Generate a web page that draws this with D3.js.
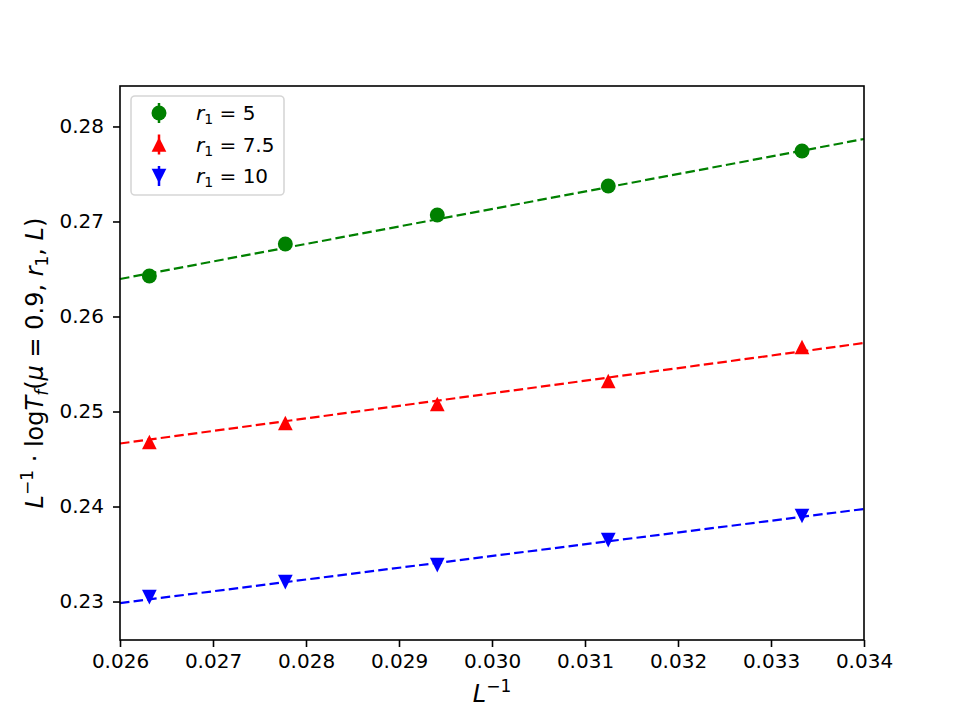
<!DOCTYPE html>
<html>
<head>
<meta charset="utf-8">
<script src="https://cdn.jsdelivr.net/npm/d3@7"></script>
<style>
body { margin: 0; background: #fff; }
svg { font-family: "DejaVu Sans", sans-serif; }
.tick text { font-size: 20px; font-family: "DejaVu Sans", sans-serif; }
</style>
</head>
<body>
<svg id="chart" width="960" height="720"></svg>
<script>
// Data
const invL = [1/38, 1/36, 1/34, 1/32, 1/30];
const seriesNames = ["5", "7.5", "10"];
const seriesColors = ["green", "red", "blue"];
const seriesMarkers = ["circle", "triangleUp", "triangleDown"];
const valsR5 = [0.26426, 0.26763, 0.27068, 0.27374, 0.27742];
const valsR75 = [0.24679, 0.24879, 0.25079, 0.25321, 0.25679];
const valsR10 = [0.23047, 0.23205, 0.23384, 0.23647, 0.23900];
const errR5 = [0.0002, 0.0002, 0.0002, 0.0002, 0.0002];
const errR75 = [0.0002, 0.0002, 0.0002, 0.0002, 0.0002];
const errR10 = [0.0002, 0.0002, 0.0002, 0.0002, 0.0002];
// fit lines: values at x = 0.026 and x = 0.034
const fitX = [0.026, 0.034];
const fitR5 = [0.26395, 0.27868];
const fitR75 = [0.24663, 0.25721];
const fitR10 = [0.22984, 0.23974];
const xTicks = [0.026, 0.027, 0.028, 0.029, 0.030, 0.031, 0.032, 0.033, 0.034];
const yTicks = [0.23, 0.24, 0.25, 0.26, 0.27, 0.28];

const series = [
  {name: seriesNames[0], color: seriesColors[0], marker: seriesMarkers[0], vals: valsR5, err: errR5, fit: fitR5},
  {name: seriesNames[1], color: seriesColors[1], marker: seriesMarkers[1], vals: valsR75, err: errR75, fit: fitR75},
  {name: seriesNames[2], color: seriesColors[2], marker: seriesMarkers[2], vals: valsR10, err: errR10, fit: fitR10}
];

const svg = d3.select("#chart");
const mLeft = 120, mRight = 864, mTop = 86, mBottom = 640;
const x = d3.scaleLinear().domain([0.026, 0.034]).range([mLeft, mRight]);
const y = d3.scaleLinear().domain([0.22595, 0.28426]).range([mBottom, mTop]);

function markerPath(type, size) {
  if (type === "circle") return d3.symbol(d3.symbolCircle, size)();
  const h = Math.sqrt(size) * 1.2;
  const w = h * 1.0;
  if (type === "triangleUp") return `M0,${-h/2}L${w/2},${h/2}L${-w/2},${h/2}Z`;
  return `M0,${h/2}L${w/2},${-h/2}L${-w/2},${-h/2}Z`;
}
function markerSize(type) { return type === "circle" ? 176 : 150; }

// fit lines
series.forEach(s => {
  svg.append("line")
    .attr("x1", x(fitX[0])).attr("y1", y(s.fit[0]))
    .attr("x2", x(fitX[1])).attr("y2", y(s.fit[1]))
    .attr("stroke", s.color).attr("stroke-width", 2.2)
    .attr("stroke-dasharray", "9.5,4.2");
});

// points with error bars
series.forEach(s => {
  const g = svg.append("g");
  s.vals.forEach((v, i) => {
    g.append("line")
      .attr("x1", x(invL[i])).attr("x2", x(invL[i]))
      .attr("y1", y(v - s.err[i])).attr("y2", y(v + s.err[i]))
      .attr("stroke", s.color).attr("stroke-width", 2.5);
    g.append("path")
      .attr("d", markerPath(s.marker, markerSize(s.marker)))
      .attr("transform", `translate(${x(invL[i])},${y(v)})`)
      .attr("fill", s.color);
  });
});

// axes
const xAxis = d3.axisBottom(x).tickValues(xTicks).tickFormat(d3.format(".3f")).tickSizeOuter(0).tickSize(7).tickPadding(7);
const yAxis = d3.axisLeft(y).tickValues(yTicks).tickFormat(d3.format(".2f")).tickSizeOuter(0).tickSize(7).tickPadding(9);
const gx = svg.append("g").attr("transform", `translate(0,${mBottom})`).call(xAxis);
const gy = svg.append("g").attr("transform", `translate(${mLeft},0)`).call(yAxis);
[gx, gy].forEach(ax => {
  ax.attr("font-size", 20).attr("font-family", "DejaVu Sans");
  ax.select(".domain").remove();
  ax.selectAll(".tick text").style("font-size", "20px").attr("fill", "#000");
  ax.selectAll(".tick line").attr("stroke", "#000").attr("stroke-width", 1.6);
});

// frame
svg.append("rect").attr("x", mLeft).attr("y", mTop).attr("width", mRight - mLeft).attr("height", mBottom - mTop)
  .attr("fill", "none").attr("stroke", "#000").attr("stroke-width", 1.6);

// x label
const xl = svg.append("text").attr("x", (mLeft + mRight) / 2).attr("y", 702)
  .attr("text-anchor", "middle").attr("font-size", "24px");
xl.append("tspan").attr("font-style", "italic").text("L");
xl.append("tspan").attr("dy", "-10").attr("font-size", "17px").text("−1");

// y label
const yl = svg.append("text").attr("transform", `translate(43,${(mTop + mBottom) / 2}) rotate(-90)`)
  .attr("text-anchor", "middle").attr("font-size", "24px");
yl.append("tspan").attr("font-style", "italic").text("L");
yl.append("tspan").attr("dy", "-10").attr("font-size", "17px").text("−1");
yl.append("tspan").attr("dy", "10").text(" · log");
yl.append("tspan").attr("font-style", "italic").text("T");
yl.append("tspan").attr("dy", "5").attr("font-size", "17px").attr("font-style", "italic").text("f");
yl.append("tspan").attr("dy", "-5").text("(");
yl.append("tspan").attr("font-style", "italic").text("μ");
yl.append("tspan").text(" = 0.9, ");
yl.append("tspan").attr("font-style", "italic").text("r");
yl.append("tspan").attr("dy", "5").attr("font-size", "17px").text("1");
yl.append("tspan").attr("dy", "-5").text(", ");
yl.append("tspan").attr("font-style", "italic").text("L");
yl.append("tspan").text(")");

// legend
const lg = svg.append("g");
lg.append("rect").attr("x", 131).attr("y", 96).attr("width", 153).attr("height", 99)
  .attr("rx", 4).attr("fill", "#fff").attr("stroke", "#d6d6d6").attr("stroke-width", 1.6);
series.forEach((s, i) => {
  const cy = 113 + i * 31.5;
  lg.append("line").attr("x1", 159).attr("x2", 159).attr("y1", cy - 10).attr("y2", cy + 10)
    .attr("stroke", s.color).attr("stroke-width", 2.5);
  lg.append("path").attr("d", markerPath(s.marker, markerSize(s.marker)))
    .attr("transform", `translate(159,${cy})`).attr("fill", s.color);
  const t = lg.append("text").attr("x", 196).attr("y", cy + 7).attr("font-size", "20px");
  t.append("tspan").attr("font-style", "italic").text("r");
  t.append("tspan").attr("dy", "4").attr("font-size", "14px").text("1");
  t.append("tspan").attr("dy", "-4").text(" = " + s.name);
});
</script>
</body>
</html>
